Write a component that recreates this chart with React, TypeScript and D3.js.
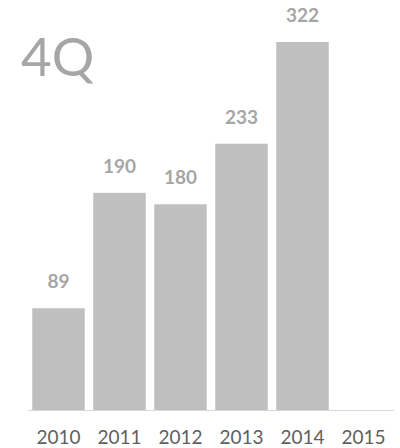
import { useEffect, useRef } from "react";
import * as d3 from "d3";

const years = ["2010", "2011", "2012", "2013", "2014", "2015"];
const values: (number | null)[] = [89, 190, 180, 233, 322, null];
const title = "4Q";

export default function App() {
  const svgRef = useRef<SVGSVGElement>(null);

  useEffect(() => {
    if (!svgRef.current) return;
    const svg = d3.select(svgRef.current);
    svg.selectAll("*").remove();

    const width = 400;
    const height = 448;

    // scales
    const x = d3.scaleBand<string>().domain(years).range([28, 394]).paddingInner(0.14).paddingOuter(0.07);
    const y = d3.scaleLinear().domain([0, 350]).range([410, 10]);

    svg.attr("width", width).attr("height", height);

    // bars
    const data = years.map((yr, i) => ({ yr, v: values[i] })).filter((d) => d.v != null);
    svg
      .selectAll(".bar")
      .data(data)
      .enter()
      .append("rect")
      .attr("class", "bar")
      .attr("x", (d) => x(d.yr)!)
      .attr("width", x.bandwidth())
      .attr("y", (d) => y(d.v!))
      .attr("height", (d) => y(0) - y(d.v!))
      .style("fill", "#BFBFBF");

    // value labels
    svg
      .selectAll(".val")
      .data(data)
      .enter()
      .append("text")
      .attr("x", (d) => x(d.yr)! + x.bandwidth() / 2)
      .attr("y", (d) => y(d.v!) - 20)
      .attr("text-anchor", "middle")
      .style("font-family", "Lato, 'Open Sans', sans-serif")
      .style("font-weight", "bold")
      .style("font-size", "19px")
      .style("fill", "#A6A6A6")
      .text((d) => String(d.v));

    // baseline
    svg
      .append("line")
      .attr("x1", 28)
      .attr("x2", 394)
      .attr("y1", y(0) + 0.5)
      .attr("y2", y(0) + 0.5)
      .style("stroke", "#D9D9D9")
      .style("stroke-width", 1);

    // year labels
    svg
      .selectAll(".yr")
      .data(years)
      .enter()
      .append("text")
      .attr("x", (d) => x(d)! + x.bandwidth() / 2)
      .attr("y", 444)
      .attr("text-anchor", "middle")
      .style("font-family", "Lato, 'Open Sans', sans-serif")
      .style("font-size", "19px")
      .style("fill", "#5F5F5F")
      .text((d) => d);

    // title
    svg
      .append("text")
      .attr("x", 21)
      .attr("y", 76)
      .style("font-family", "Lato, 'Open Sans', sans-serif")
      .style("font-size", "53px")
      .style("fill", "#A6A6A6")
      .text(title);
  }, []);

  return (
    <div style={{ position: "absolute", left: 0, top: 0 }}>
      <svg ref={svgRef} style={{ display: "block" }} />
    </div>
  );
}
